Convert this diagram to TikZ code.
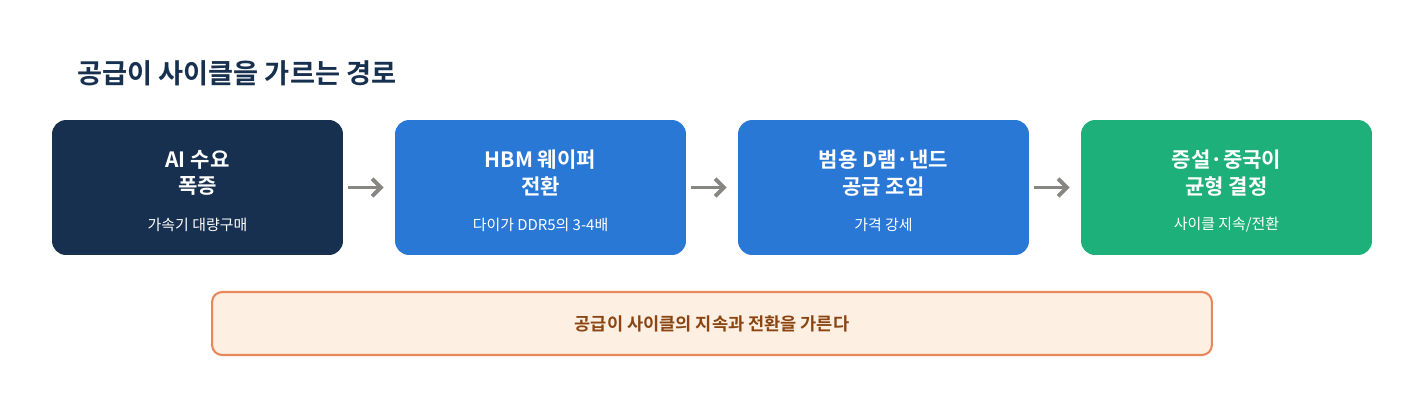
\documentclass[tikz,border=0pt]{standalone}
\usepackage{fontspec}
\setmainfont{Noto Sans CJK KR}[BoldFont={* Bold}]
\usetikzlibrary{positioning,arrows.meta}
\definecolor{navy}{HTML}{17304F}
\definecolor{midblue}{HTML}{2A78D6}
\definecolor{teal}{HTML}{1DB07A}
\definecolor{peach}{HTML}{FDEFE1}
\definecolor{rust}{HTML}{E8885A}
\definecolor{brownish}{HTML}{8B4513}
\definecolor{arrowgray}{HTML}{888680}
\tikzset{
  stage/.style={rounded corners=0.28cm, minimum width=5.82cm, minimum height=2.7cm, inner sep=0pt},
  stagetitle/.style={text=white, font=\bfseries\fontsize{12}{15}\selectfont, align=center},
  stagenote/.style={text=white, font=\fontsize{8.5}{10}\selectfont},
  link/.style={-{Straight Barb[length=5pt,width=10pt]}, line width=2.2pt, arrowgray}
}
\begin{document}
\begin{tikzpicture}[x=0.02cm, y=-0.02cm]
  \useasboundingbox (0,0) rectangle (1408,400);
  % title
  \node[anchor=west, text=navy, font=\bfseries\fontsize{15.5}{18}\selectfont] (title) at (71,73) {공급이 사이클을 가르는 경로};

  % stages
  \node[stage, fill=navy] (s1) at (197.5,187.5) {};
  \node[stage, fill=midblue] (s2) at (540.5,187.5) {};
  \node[stage, fill=midblue] (s3) at (883.5,187.5) {};
  \node[stage, fill=teal] (s4) at (1226.5,187.5) {};

  \node[stagetitle] (t1) at (197.5,173) {AI 수요\\폭증};
  \node[stagetitle] (t2) at (540.5,173) {HBM 웨이퍼\\전환};
  \node[stagetitle] (t3) at (883.5,173) {범용 D램·낸드\\공급 조임};
  \node[stagetitle] (t4) at (1226.5,173) {증설·중국이\\균형 결정};

  \node[stagenote] (n1) at (197.5,225) {가속기 대량구매};
  \node[stagenote] (n2) at (540.5,225) {다이가 DDR5의 3-4배};
  \node[stagenote] (n3) at (883.5,225) {가격 강세};
  \node[stagenote] (n4) at (1226.5,225) {사이클 지속/전환};

  % arrows
  \draw[link] ([xshift=0.1cm]s1.east) -- ([xshift=-0.22cm]s2.west);
  \draw[link] ([xshift=0.1cm]s2.east) -- ([xshift=-0.22cm]s3.west);
  \draw[link] ([xshift=0.1cm]s3.east) -- ([xshift=-0.22cm]s4.west);

  % conclusion
  \node[rounded corners=0.2cm, minimum width=20cm, minimum height=1.26cm, fill=peach, draw=rust, line width=1.2pt,
        text=brownish, font=\bfseries\fontsize{10}{12}\selectfont] (bottom) at (712,323.5) {공급이 사이클의 지속과 전환을 가른다};
\end{tikzpicture}
\end{document}
